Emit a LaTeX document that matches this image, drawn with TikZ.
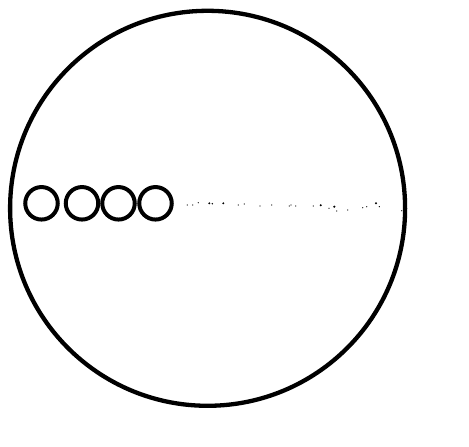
\documentclass[tikz,border=0pt]{standalone}
\begin{document}
\begin{tikzpicture}[x=1pt,y=-1pt,
  bigring/.style={draw=black,line width=4.3pt},
  smallring/.style={draw=black,line width=4pt,circle,minimum size=32.5pt,inner sep=0pt},
  speck/.style={fill=black,circle,inner sep=0pt,minimum size=#1}]
\useasboundingbox (0,0) rectangle (469,447);
\node[bigring,circle,minimum size=395pt,inner sep=0pt] (outer) at (207.6,208.3) {};
\node[smallring] (c1) at (41.5,203.3) {};
\node[smallring] (c2) at (82,203.3) {};
\node[smallring] (c3) at (118.5,203.3) {};
\node[smallring] (c4) at (155.5,203.3) {};
\foreach \x/\y/\s in {187.3/205/1.3pt,192.7/205/1.3pt,198.3/202.7/1.3pt,209.3/203.3/2.2pt,212.3/203.7/1.6pt,223.3/203.3/2.2pt,238.3/205/1.3pt,244.3/204/1.3pt,260/206/1.3pt,271.7/205/1.3pt,289.3/206/1.3pt,291/205/1.3pt,295.7/206/1.3pt,313.3/206/1.3pt,320.7/205.3/2.2pt,329/208.3/1.3pt,334.3/206.7/2.4pt,336.7/211/1.3pt,347.7/210/1.3pt,362.7/207.7/1.3pt,366.7/206.7/1.3pt,376/203.3/2.2pt,379.3/206.7/1.3pt,401.7/210.7/1.3pt}
  \node[speck=\s] at (\x,\y) {};
\end{tikzpicture}
\end{document}
